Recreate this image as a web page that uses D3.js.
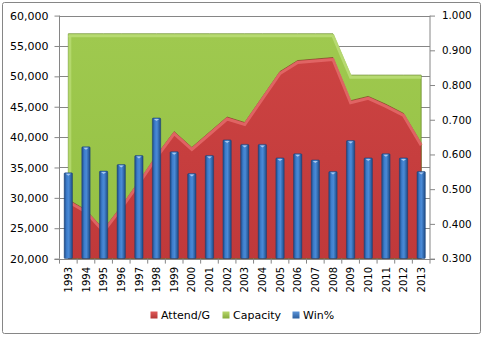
<!DOCTYPE html>
<html><head><meta charset="utf-8">
<script src="https://cdn.jsdelivr.net/npm/d3@7"></script>
<style>
body{margin:0;background:#fff}
svg{display:block}
text{font-family:"DejaVu Sans",Verdana,sans-serif;fill:#000}
</style>
</head><body>
<svg id="c" width="483" height="337"></svg>
<script>
const years = ["1993","1994","1995","1996","1997","1998","1999","2000","2001","2002","2003","2004","2005","2006","2007","2008","2009","2010","2011","2012","2013"];
const attend = [29700,28000,24800,28600,32700,37000,40900,38300,40800,43300,42400,46600,50800,52600,52850,53100,46000,46700,45400,43900,39000];
const capacity = [57000,57000,57000,57000,57000,57000,57000,57000,57000,57000,57000,57000,57000,57000,57000,57000,50200,50200,50200,50200,50200];
const winPct = [0.547,0.622,0.552,0.571,0.597,0.705,0.608,0.545,0.597,0.642,0.629,0.629,0.590,0.602,0.584,0.551,0.640,0.590,0.602,0.590,0.551];
const leftTicks = [20000,25000,30000,35000,40000,45000,50000,55000,60000];
const rightTicks = [0.3,0.4,0.5,0.6,0.7,0.8,0.9,1.0];
const legendNames = ["Attend/G","Capacity","Win%"];

const svg = d3.select("#c");
const X0 = 59.5, X1 = 430, Y0 = 15.6, Y1 = 258.6;
const x = d3.scaleBand().domain(years).range([X0, X1]).paddingInner(0.53).paddingOuter(0.265);
const xc = d => x(d) + x.bandwidth()/2;
const yL = d3.scaleLinear().domain([20000,60000]).range([Y1, Y0]);
const yR = d3.scaleLinear().domain([0.3,1.0]).range([Y1, Y0]);
const grid = "#868686";

const defs = svg.append("defs");
const bg = defs.append("linearGradient").attr("id","bar").attr("x1",0).attr("x2",1).attr("y1",0).attr("y2",0);
bg.append("stop").attr("offset","0%").attr("stop-color","#1d4a86");
bg.append("stop").attr("offset","30%").attr("stop-color","#3d7dcc");
bg.append("stop").attr("offset","55%").attr("stop-color","#4a8ad6");
bg.append("stop").attr("offset","100%").attr("stop-color","#1d4a86");
const rg = defs.append("linearGradient").attr("id","red").attr("x1",0).attr("x2",0).attr("y1",0).attr("y2",1);
rg.append("stop").attr("offset","0%").attr("stop-color","#cc4342");
rg.append("stop").attr("offset","100%").attr("stop-color","#c0393a");
const gg = defs.append("linearGradient").attr("id","green").attr("x1",0).attr("x2",0).attr("y1",0).attr("y2",1);
gg.append("stop").attr("offset","0%").attr("stop-color","#9fc94f");
gg.append("stop").attr("offset","100%").attr("stop-color","#94c043");

// border
svg.append("rect").attr("x",2.5).attr("y",2.5).attr("width",478).attr("height",331)
  .attr("fill","#fff").attr("stroke",grid).attr("stroke-width",1).attr("rx",2);

// gridlines
svg.append("g").selectAll("line").data(leftTicks.filter(d=>d>20000)).join("line")
  .attr("x1",X0).attr("x2",X1).attr("y1",d=>Math.round(yL(d))+0.5).attr("y2",d=>Math.round(yL(d))+0.5)
  .attr("stroke",grid);

// capacity area
const areaCap = d3.area().x((d,i)=>xc(years[i])).y0(yL(20000)).y1(d=>yL(d));
const lineGen = d3.line().x((d,i)=>xc(years[i])).y(d=>yL(d));
svg.append("path").datum(capacity).attr("d",areaCap).attr("fill","url(#green)")
  .attr("stroke","#6f8f30").attr("stroke-width",0.8);
// bevel highlight
svg.append("path").datum(capacity).attr("d",lineGen).attr("fill","none")
  .attr("stroke","#b9dc74").attr("stroke-width",3).attr("transform","translate(0,2)").attr("opacity",0.9);
svg.append("line").attr("x1",xc(years[0])+1.5).attr("x2",xc(years[0])+1.5)
  .attr("y1",yL(capacity[0])+2).attr("y2",Y1).attr("stroke","#b9dc74").attr("stroke-width",3).attr("opacity",0.8);

// attendance area
const areaAtt = d3.area().x((d,i)=>xc(years[i])).y0(yL(20000)).y1(d=>yL(d));
svg.append("path").datum(attend).attr("d",areaAtt).attr("fill","url(#red)")
  .attr("stroke","#7d4a2a").attr("stroke-width",1).attr("stroke-opacity",0.7);
svg.append("path").datum(attend).attr("d",lineGen).attr("fill","none")
  .attr("stroke","#e46a6a").attr("stroke-width",3).attr("transform","translate(0,2)").attr("opacity",0.85);

// bars
const bars = svg.append("g").selectAll("g").data(winPct).join("g");
bars.append("rect")
  .attr("x",(d,i)=>x(years[i])).attr("width",x.bandwidth())
  .attr("y",d=>yR(d)).attr("height",d=>yR(0.3)-yR(d))
  .attr("fill","url(#bar)").attr("stroke","#1b3f73").attr("stroke-width",0.5).attr("rx",1);
bars.append("path")
  .attr("d",(d,i)=>{const l=x(years[i]), w=x.bandwidth(), t=yR(d);
     return `M${l+1.5},${t+1}L${l+w-1.5},${t+1}L${l+w/2},${t+3}Z`;})
  .attr("fill","#a9c8ee");

// axes lines
svg.append("line").attr("x1",X0).attr("x2",X0).attr("y1",Y0).attr("y2",Y1).attr("stroke",grid);
svg.append("line").attr("x1",X1).attr("x2",X1).attr("y1",Y0).attr("y2",Y1).attr("stroke",grid);
svg.append("line").attr("x1",X0-5).attr("x2",X1+5).attr("y1",Math.round(Y1)+0.5).attr("y2",Math.round(Y1)+0.5).attr("stroke",grid);

// left axis
const ga = svg.append("g").attr("transform",`translate(${X0},0)`)
  .call(d3.axisLeft(yL).tickValues(leftTicks).tickFormat(d3.format(",")).tickSize(5).tickPadding(6));
ga.select(".domain").remove();
ga.selectAll("line").attr("stroke",grid);
ga.selectAll("text").attr("font-size","11px").attr("font-family","DejaVu Sans").attr("fill","#000");

// right axis
const gr = svg.append("g").attr("transform",`translate(${X1},0)`)
  .call(d3.axisRight(yR).tickValues(rightTicks).tickFormat(d3.format(".3f")).tickSize(5).tickPadding(7));
gr.select(".domain").remove();
gr.selectAll("line").attr("stroke",grid);
gr.selectAll("text").attr("font-size","10.3px").attr("font-family","DejaVu Sans").attr("fill","#000");

// bottom ticks at category boundaries
const bounds = years.map(d=>x(d)-x.step()*x.paddingInner()/2).concat([X1]);
svg.append("g").selectAll("line").data(bounds).join("line")
  .attr("x1",d=>d).attr("x2",d=>d).attr("y1",Y1).attr("y2",Y1+5).attr("stroke",grid);

// bottom labels
svg.append("g").selectAll("text").data(years).join("text")
  .attr("transform",d=>`translate(${xc(d)},267) rotate(-90)`)
  .attr("text-anchor","end").attr("dy","0.36em").attr("font-size","10px").text(d=>d);

// legend
const legColors = [["#e05a59","#b33534"],["#b8d86c","#86ab3a"],["#5b94d8","#2b5e9e"]];
const legX = [150.5, 222.5, 292.5];
legendNames.forEach((n,i)=>{
  const lg = defs.append("linearGradient").attr("id","lg"+i).attr("x1",0).attr("x2",0).attr("y1",0).attr("y2",1);
  lg.append("stop").attr("offset","0%").attr("stop-color",legColors[i][0]);
  lg.append("stop").attr("offset","100%").attr("stop-color",legColors[i][1]);
  svg.append("rect").attr("x",legX[i]).attr("y",311.5).attr("width",7).attr("height",7).attr("fill",`url(#lg${i})`);
  svg.append("text").attr("x",legX[i]+10.5).attr("y",318.5).attr("font-size","11px").text(n);
});
</script>
</body></html>
